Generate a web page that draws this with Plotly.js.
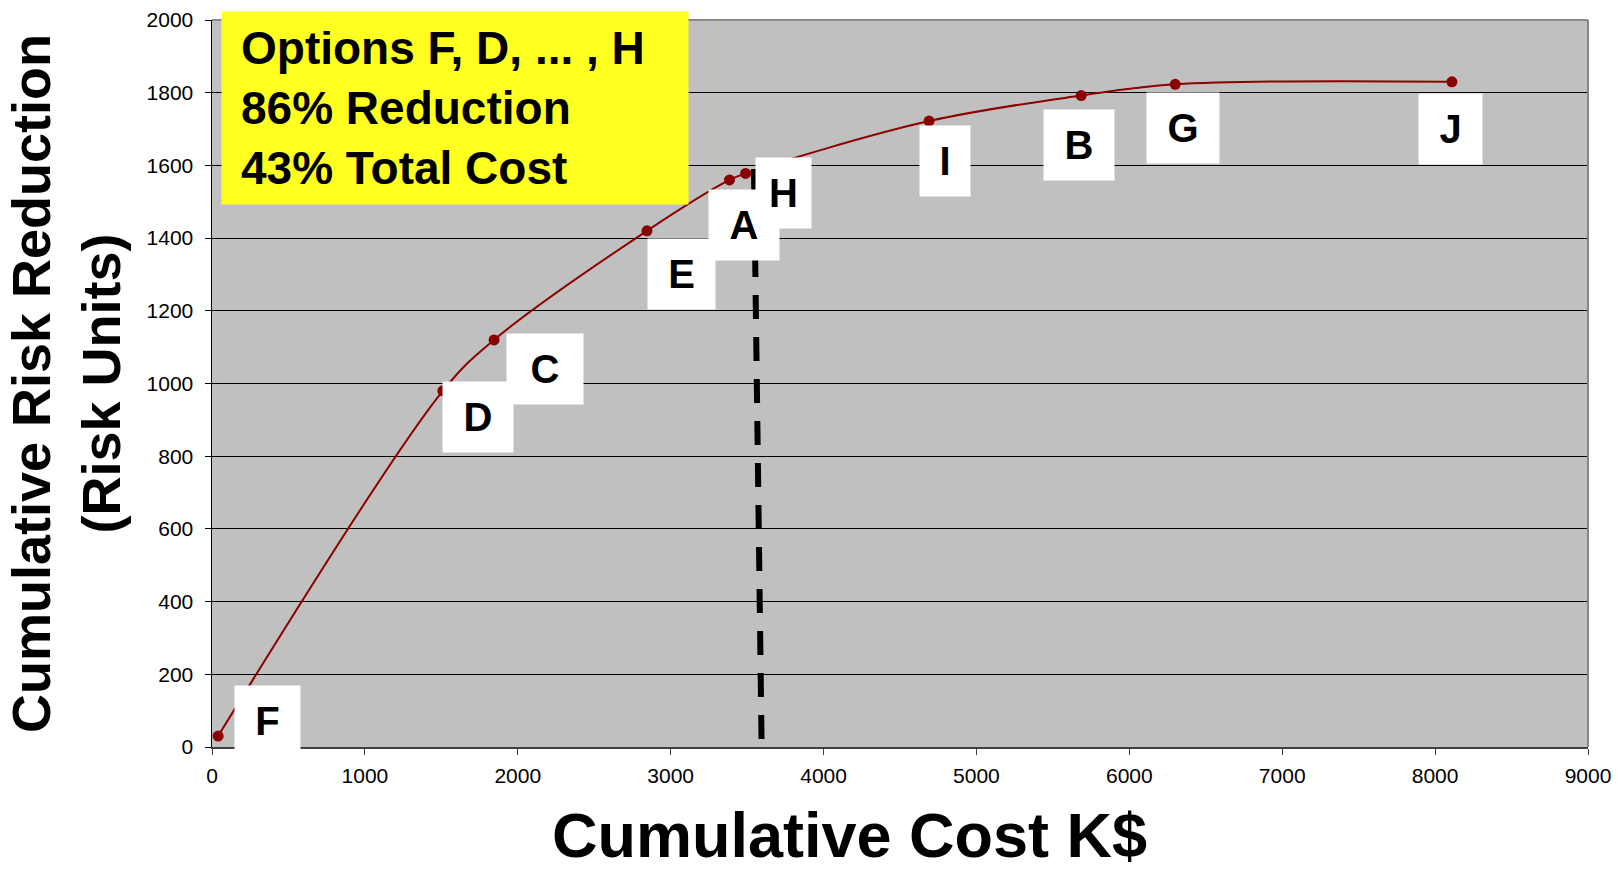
<!DOCTYPE html>
<html>
<head>
<meta charset="utf-8">
<script src="https://cdn.plot.ly/plotly-3.0.1.min.js"></script>
<style>
  html, body { margin: 0; padding: 0; background: #ffffff; }
  #chart { width: 1618px; height: 871px; }
</style>
</head>
<body>
<div id="chart"></div>
<script>
// Risk-reduction options, in the order they are added (cheapest benefit first)
const optionLabels = ['F', 'D', 'C', 'E', 'A', 'H', 'I', 'B', 'G', 'J'];
// Cumulative cost, K$
const cumulativeCost = [40, 1510, 1845, 2845, 3385, 3490, 4690, 5685, 6300, 8110];
// Cumulative risk reduction, risk units
const cumulativeRisk = [30, 980, 1120, 1420, 1560, 1578, 1722, 1792, 1823, 1830];

// Budget cut-off line drawn after option H
const cutoffCost = [3545, 3595];
const cutoffRisk = [1590, 0];

const summaryLines = ['Options F, D, ... , H', '86% Reduction', '43% Total Cost'];

const xTickValues = [0, 1000, 2000, 3000, 4000, 5000, 6000, 7000, 8000, 9000];
const yTickValues = [0, 200, 400, 600, 800, 1000, 1200, 1400, 1600, 1800, 2000];

// Label box placement (pixel offsets from each point, y down) and box widths
const labelStyle = {
  F: { dx: 49, dy: -15, w: 65 },
  D: { dx: 35, dy: 26, w: 70 },
  C: { dx: 51, dy: 29, w: 76 },
  E: { dx: 35, dy: 43, w: 67 },
  A: { dx: 14, dy: 45, w: 70 },
  H: { dx: 38, dy: 20, w: 55 },
  I: { dx: 16, dy: 40, w: 50 },
  B: { dx: -2, dy: 49, w: 70 },
  G: { dx: 8, dy: 44, w: 72 },
  J: { dx: -1, dy: 47, w: 63 }
};

const FONT = 'Liberation Sans, Arial, Helvetica, sans-serif';
const DARK_RED = '#8b0000';

const curve = {
  x: cumulativeCost,
  y: cumulativeRisk,
  text: optionLabels,
  type: 'scatter',
  mode: 'lines+markers',
  line: { color: DARK_RED, width: 2, shape: 'spline', smoothing: 1 },
  marker: { color: DARK_RED, size: 11 },
  hoverinfo: 'x+y+text'
};

const cutoff = {
  x: cutoffCost,
  y: cutoffRisk,
  type: 'scatter',
  mode: 'lines',
  line: { color: '#000000', width: 6, dash: '24px,18px' },
  hoverinfo: 'skip'
};

const pointLabels = optionLabels.map((name, i) => {
  const s = labelStyle[name];
  return {
    x: cumulativeCost[i],
    y: cumulativeRisk[i],
    xref: 'x',
    yref: 'y',
    text: name,
    showarrow: false,
    xshift: s.dx,
    yshift: -s.dy,
    bgcolor: '#ffffff',
    borderpad: 9,
    width: s.w - 18,
    height: 52,
    font: { family: FONT, size: 40, weight: 'bold', color: '#000000' }
  };
});

const summaryBox = {
  xref: 'paper',
  yref: 'paper',
  x: 0.0065,
  y: 1.0124,
  xanchor: 'left',
  yanchor: 'top',
  text: summaryLines.join('<br>'),
  align: 'left',
  showarrow: false,
  bgcolor: '#ffff20',
  borderpad: 19,
  width: 428,
  height: 154,
  font: { family: FONT, size: 46, weight: 'bold', color: '#000000' }
};

const xTitle = {
  xref: 'paper',
  yref: 'paper',
  x: 0.463,
  y: -0.1215,
  xanchor: 'center',
  yanchor: 'middle',
  text: 'Cumulative Cost K$',
  showarrow: false,
  font: { family: FONT, size: 63, weight: 'bold', color: '#000000' }
};

const layout = {
  width: 1618,
  height: 871,
  margin: { l: 212, r: 30, t: 20, b: 124 },
  paper_bgcolor: '#ffffff',
  plot_bgcolor: '#c0c0c0',
  font: { family: FONT, color: '#000000' },
  showlegend: false,
  xaxis: {
    range: [0, 9000],
    tickmode: 'array',
    tickvals: xTickValues,
    ticktext: xTickValues.map(String),
    showgrid: false,
    zeroline: false,
    showline: true,
    linecolor: '#404040',
    linewidth: 2,
    ticks: 'outside',
    ticklen: 6,
    tickwidth: 1,
    tickcolor: '#404040',
    ticklabelstandoff: 3,
    tickfont: { family: FONT, size: 21, color: '#000000' }
  },
  yaxis: {
    range: [0, 2000],
    tickmode: 'array',
    tickvals: yTickValues,
    ticktext: yTickValues.map(String),
    showgrid: true,
    gridcolor: '#000000',
    gridwidth: 1,
    zeroline: false,
    showline: true,
    linecolor: '#000000',
    linewidth: 1.5,
    ticks: 'outside',
    ticklen: 6,
    tickwidth: 1,
    tickcolor: '#000000',
    ticklabelstandoff: 7,
    tickfont: { family: FONT, size: 21, color: '#000000' },
    title: {
      text: 'Cumulative Risk Reduction<br>(Risk Units)',
      font: { family: FONT, size: 54, weight: 'bold', color: '#000000' },
      standoff: 8
    }
  },
  shapes: [
    { type: 'line', xref: 'paper', yref: 'paper', x0: 0, x1: 1, y0: 1, y1: 1,
      line: { color: '#888888', width: 2 } },
    { type: 'line', xref: 'paper', yref: 'paper', x0: 1, x1: 1, y0: 0, y1: 1,
      line: { color: '#888888', width: 2 } }
  ],
  annotations: pointLabels.concat([summaryBox, xTitle])
};

Plotly.newPlot('chart', [curve, cutoff], layout, { staticPlot: true, displayModeBar: false });
</script>
</body>
</html>
